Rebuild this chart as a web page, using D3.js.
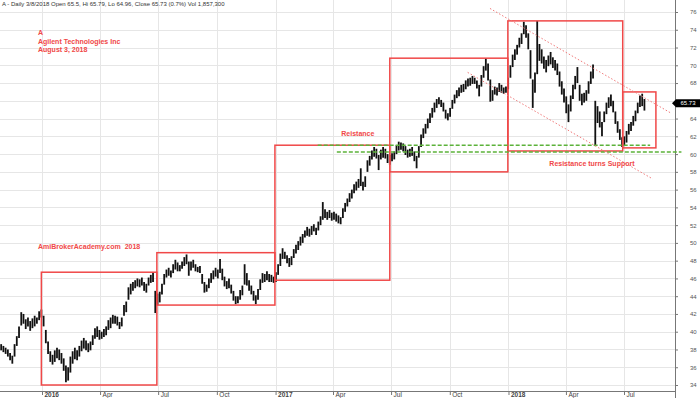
<!DOCTYPE html>
<html><head><meta charset="utf-8">
<script src="https://cdn.jsdelivr.net/npm/d3@7"></script>
<style>body{margin:0;background:#fff}svg{display:block;font-family:"Liberation Sans",Arial,sans-serif}text{white-space:pre}</style>
</head><body><svg id="c" width="700" height="398"></svg>
<script>
// ---------- data ----------
const headerText = "A - Daily 3/8/2018 Open 65.5, Hi 65.79, Lo 64.96, Close 65.73 (0.7%) Vol 1,857,300";
const titleLines = ["A", "Agilent Technologies Inc", "August 3, 2018"];
const siteText = "AmiBrokerAcademy.com  2018";
const barStart = "2015-10-29";      // first bar (half-week bars)
const barStepDays = 3.5;
const highs = [
38.6,38.4,38.2,38.0,37.6,37.3,38.6,39.5,40.6,42.2,
42.0,41.4,41.6,41.2,41.5,41.8,41.6,42.3,42.5,41.8,
40.2,38.9,37.8,37.4,37.9,38.2,38.0,37.6,37.0,36.2,
36.0,37.2,37.8,38.2,37.9,38.4,39.0,39.3,39.0,38.7,
38.9,39.6,40.4,40.6,40.2,40.0,40.3,40.6,41.3,41.6,
41.9,41.8,41.7,41.1,41.6,43.0,43.4,45.0,45.4,45.6,
45.8,46.0,45.9,46.1,45.6,45.4,46.1,46.4,46.7,44.6,
44.3,44.5,45.4,46.5,47.0,47.2,46.9,47.6,48.1,47.8,
47.5,47.9,48.4,48.7,47.9,47.9,48.1,47.6,47.3,47.4,
46.5,45.6,45.3,46.0,46.6,46.9,47.2,47.0,48.2,47.1,
46.2,45.7,46.0,45.3,44.6,44.0,44.0,44.7,45.2,47.6,
46.6,45.8,45.2,44.6,44.1,44.8,45.9,46.6,46.5,46.8,
46.5,46.4,46.2,46.7,47.6,48.8,49.4,49.0,48.6,48.3,
48.5,49.3,49.8,50.2,50.7,51.0,51.4,51.8,51.6,51.9,
52.1,51.7,52.4,53.0,54.6,53.8,53.5,53.7,53.4,53.5,
53.3,53.1,52.9,53.9,54.5,55.0,55.6,56.0,56.6,56.9,
57.2,58.4,56.9,57.5,59.3,59.8,60.4,60.8,60.6,59.9,
60.5,60.8,60.6,60.0,59.9,60.1,60.3,61.0,61.4,61.3,
61.2,60.9,60.5,60.6,60.8,60.3,59.8,60.9,62.2,62.9,
63.4,64.0,64.6,65.2,65.8,66.2,66.4,66.1,65.8,65.0,
64.6,65.2,66.1,66.7,67.2,67.5,67.8,67.9,68.3,68.5,
68.6,68.8,68.6,68.3,67.8,68.9,69.9,70.8,70.2,68.4,
67.2,67.6,67.5,68.0,67.8,67.5,67.6,68.6,70.0,71.2,
71.8,72.3,73.1,73.6,74.9,74.5,73.6,71.7,68.4,69.2,
75.0,72.4,71.8,71.0,70.6,71.1,71.5,70.9,70.6,70.2,
69.3,68.2,67.4,66.5,65.6,66.6,67.8,68.8,69.8,67.8,
66.8,66.9,67.2,68.2,69.3,70.1,66.0,65.4,64.8,63.6,
64.8,65.8,66.4,66.7,66.0,64.8,63.7,62.8,61.9,62.0,
62.6,63.4,63.6,64.3,64.9,65.8,66.6,66.8,66.2];
const lows = [
37.9,37.7,37.5,37.2,36.8,36.4,37.2,38.4,39.3,40.7,
40.9,40.3,40.6,40.1,40.4,40.6,40.9,41.3,41.6,40.6,
38.7,37.5,36.6,36.3,36.6,37.0,36.8,36.4,35.6,34.3,
34.5,35.4,36.4,36.9,36.8,37.2,37.8,38.1,37.9,37.7,
37.9,38.5,39.2,39.4,39.1,39.2,39.4,39.6,40.2,40.4,
40.9,40.9,40.7,40.3,40.6,41.8,42.2,43.6,44.2,44.6,
44.9,45.1,45.0,45.2,44.6,44.4,45.2,45.5,45.6,42.1,
43.0,43.3,44.2,45.3,46.1,46.3,46.1,46.6,47.0,46.8,
46.8,47.1,47.4,47.6,46.3,46.9,47.2,46.8,46.7,46.6,
45.4,44.4,44.5,44.9,45.5,45.9,46.2,46.0,46.6,45.8,
45.1,44.8,44.9,44.3,43.5,43.1,43.2,43.6,44.1,45.3,
45.2,44.6,44.2,43.5,43.1,43.6,44.7,45.5,45.6,45.8,
45.6,45.6,45.5,45.6,46.4,47.4,48.2,48.2,47.7,47.3,
47.5,48.3,48.8,49.2,49.7,50.0,50.6,50.8,50.7,50.9,
51.3,50.9,51.4,52.0,52.6,52.8,52.6,52.8,52.5,52.6,
52.4,52.2,52.1,52.8,53.5,54.1,54.6,55.0,55.6,55.9,
56.2,56.4,55.9,56.3,58.0,58.7,59.4,59.7,59.5,58.2,
59.4,59.6,59.5,59.0,58.8,59.2,59.4,60.0,60.4,60.5,
60.3,59.9,59.6,59.7,59.8,59.2,58.4,59.6,60.8,61.8,
62.3,62.9,63.5,64.1,64.7,65.2,65.6,65.3,64.8,64.0,
63.8,64.2,65.1,65.7,66.3,66.5,66.9,67.0,67.3,67.6,
67.7,67.9,67.9,67.4,66.5,67.6,68.6,69.4,68.3,65.9,
66.0,66.7,66.6,67.0,66.9,66.8,66.9,67.3,68.6,69.8,
70.6,71.2,72.0,72.4,73.5,73.1,71.8,68.5,65.2,66.9,
69.0,70.5,70.2,69.6,69.2,69.9,70.1,69.7,69.4,68.9,
67.6,66.7,65.8,64.6,63.6,64.8,66.2,67.3,68.0,66.0,
65.5,65.8,66.0,66.8,67.9,68.5,60.9,63.5,63.0,62.0,
63.6,64.5,65.2,65.4,64.7,63.4,62.4,61.6,60.8,60.9,
61.3,62.2,62.6,63.2,63.7,64.6,65.3,65.4,64.9];
const lastClose = 65.73;
const yTicks = [34,36,38,40,42,44,46,48,50,52,54,56,58,60,62,64,66,68,70,72,74,76];
const xTickDates = ["2016-01-01","2016-04-01","2016-07-01","2016-10-01","2017-01-01","2017-04-01","2017-07-01","2017-10-01","2018-01-01","2018-04-01","2018-07-01"];
const xTickLabels = ["2016","Apr","Jul","Oct","2017","Apr","Jul","Oct","2018","Apr","Jul"];
// boxes: [startDate, endDate, lowPrice, highPrice]
const boxStarts = ["2015-12-31","2016-06-29","2016-12-31","2017-06-29","2017-12-31","2018-06-29"];
const boxEnds   = ["2016-06-29","2016-12-31","2017-06-29","2017-12-31","2018-06-29","2018-08-20"];
const boxLows   = [34.0, 43.0, 45.8, 58.0, 60.35, 60.7];
const boxHighs  = [46.7, 48.9, 61.0, 70.8, 75.0, 67.0];
// green support/resistance lines: [startDate, endDate, price]
const greenStarts = ["2017-03-08","2017-04-07"];
const greenEnds   = ["2018-08-11","2018-09-29"];
const greenPrices = [61.0, 60.25];
// channel trend lines
const trendUpper = [["2017-12-03",76.4],["2018-09-13",64.6]];
const trendLower = [["2017-10-29",69.2],["2018-08-15",57.2]];
const notes = [
  {text:"Reistance", date:"2017-04-14", price:62.0},
  {text:"Resistance turns Support", date:"2018-03-06", price:58.65}
];

// ---------- drawing ----------
const W = 700, H = 398;
const svg = d3.select("#c");
const P = d3.timeParse("%Y-%m-%d");
const x = d3.scaleTime().domain([P("2016-01-01"), P("2018-07-01")]).range([42, 624]);
const y = d3.scaleLinear().domain([34, 76]).range([385, 12]);
const axisX = 675, axisY = 391;
const red = "#f04848";

svg.append("rect").attr("width", W).attr("height", H).attr("fill", "#fff");

// grid
svg.append("g").selectAll("line").data(yTicks).join("line")
  .attr("x1", 0).attr("x2", axisX).attr("y1", d => Math.round(y(d)) + .5).attr("y2", d => Math.round(y(d)) + .5)
  .attr("stroke", "#e6e6e6").attr("stroke-width", 1);
svg.append("g").selectAll("line").data(xTickDates).join("line")
  .attr("x1", d => Math.round(x(P(d))) + .5).attr("x2", d => Math.round(x(P(d))) + .5)
  .attr("y1", 0).attr("y2", axisY).attr("stroke", "#e6e6e6");

// price bars
const t0 = P(barStart);
const bars = highs.map((h, i) => ({d: new Date(+t0 + i * barStepDays * 864e5), h, l: lows[i]}));
svg.append("g").selectAll("line").data(bars).join("line")
  .attr("x1", d => x(d.d)).attr("x2", d => x(d.d))
  .attr("y1", d => y(d.h)).attr("y2", d => y(d.l))
  .attr("stroke", "#111").attr("stroke-width", 1.8);

// axes lines
svg.append("line").attr("x1", axisX + .5).attr("x2", axisX + .5).attr("y1", 0).attr("y2", H).attr("stroke", "#777");
svg.append("line").attr("x1", 0).attr("x2", axisX).attr("y1", axisY + .5).attr("y2", axisY + .5).attr("stroke", "#777");

// y axis
const yAx = svg.append("g").attr("transform", `translate(${axisX},0)`)
  .call(d3.axisRight(y).tickValues(yTicks).tickSize(3).tickPadding(12).tickFormat(d3.format("d")));
yAx.select(".domain").remove();
yAx.selectAll("line").attr("stroke", "#777");
yAx.selectAll("text").attr("font-size", 6).attr("fill", "#555").attr("font-family", "Liberation Sans, Arial, sans-serif");

// x axis
const xAx = svg.append("g").attr("transform", `translate(0,${axisY})`)
  .call(d3.axisBottom(x).tickValues(xTickDates.map(P)).tickSize(4)
    .tickFormat((d, i) => xTickLabels[i]));
xAx.select(".domain").remove();
xAx.selectAll("line").attr("stroke", "#777");
xAx.selectAll("text").attr("font-size", 6.5).attr("fill", "#444").attr("text-anchor", "start")
  .attr("x", 2).attr("y", 1).attr("dy", "0.75em")
  .attr("font-weight", (d, i) => /^\d/.test(xTickLabels[i]) ? "bold" : "normal")
  .attr("font-family", "Liberation Sans, Arial, sans-serif");

// boxes
svg.append("g").selectAll("rect").data(boxStarts).join("rect")
  .attr("x", (d, i) => x(P(d)))
  .attr("y", (d, i) => y(boxHighs[i]))
  .attr("width", (d, i) => x(P(boxEnds[i])) - x(P(d)))
  .attr("height", (d, i) => y(boxLows[i]) - y(boxHighs[i]))
  .attr("fill", "none").attr("stroke", red).attr("stroke-width", 1.5);

// green dashed lines
svg.append("g").selectAll("line").data(greenStarts).join("line")
  .attr("x1", d => x(P(d))).attr("x2", (d, i) => x(P(greenEnds[i])))
  .attr("y1", (d, i) => y(greenPrices[i])).attr("y2", (d, i) => y(greenPrices[i]))
  .attr("stroke", "#5cb23a").attr("stroke-width", 1.5).attr("stroke-dasharray", "4,2");

// trend lines
[trendUpper, trendLower].forEach(t => {
  svg.append("line")
    .attr("x1", x(P(t[0][0]))).attr("y1", y(t[0][1]))
    .attr("x2", x(P(t[1][0]))).attr("y2", y(t[1][1]))
    .attr("stroke", "#f07a7a").attr("stroke-width", 1).attr("stroke-dasharray", "1.5,2");
});

// last price marker (covers the 66 tick label, as in the reference)
const yc = y(lastClose);
yAx.selectAll(".tick").filter(d => Math.abs(y(d) - yc) < 6).select("text").attr("opacity", 0);
svg.append("path").attr("d", `M${axisX - 3},${yc} L${axisX + 1},${yc - 4} L${W},${yc - 4} L${W},${yc + 4} L${axisX + 1},${yc + 4} Z`).attr("fill", "#000");
svg.append("text").attr("x", 688).attr("y", yc).attr("dy", "0.35em").attr("text-anchor", "middle")
  .attr("font-size", 6).attr("fill", "#fff").text(d3.format(".2f")(lastClose));

// texts
svg.append("text").attr("x", 2).attr("y", 6).attr("font-size", 6).attr("fill", "#333").text(headerText);
svg.append("g").selectAll("text").data(titleLines).join("text")
  .attr("x", 38).attr("y", (d, i) => 35 + i * 8.7).attr("font-size", 7).attr("font-weight", "bold")
  .attr("fill", red).text(d => d);
svg.append("text").attr("x", 38).attr("y", 249).attr("font-size", 7).attr("font-weight", "bold").attr("fill", red)
  .attr("xml:space", "preserve").text(siteText);
svg.append("g").selectAll("text").data(notes).join("text")
  .attr("x", d => x(P(d.date))).attr("y", d => y(d.price)).attr("font-size", 7).attr("font-weight", "bold")
  .attr("fill", red).text(d => d.text);
</script></body></html>
